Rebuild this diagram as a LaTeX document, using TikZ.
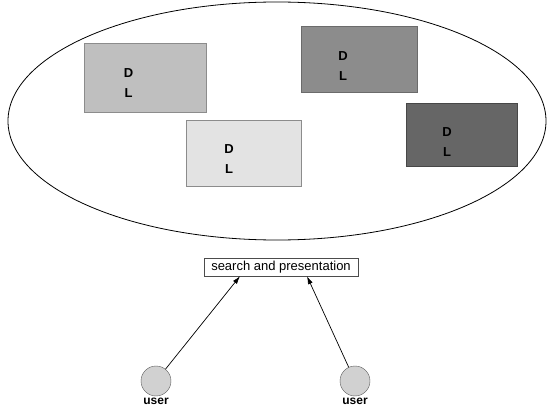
\documentclass[tikz,border=0pt]{standalone}
\usepackage{fontspec}
\setmainfont{Liberation Sans}
\usetikzlibrary{arrows.meta}
\begin{document}
\begin{tikzpicture}[x=1pt,y=1pt,>={Latex[length=8pt,width=5pt]},
    dlbox/.style={draw=black!45,inner sep=0pt},
    dltext/.style={font=\bfseries\fontsize{13}{20}\selectfont,align=center,inner sep=0pt},
    usernode/.style={circle,draw=black!65,fill=black!18,minimum size=30pt,inner sep=0pt,
        label={[font=\bfseries\fontsize{12}{14}\selectfont,label distance=-2pt]below:user}}]
    \useasboundingbox (0,0) rectangle (550,408);

    % The big ellipse holding the libraries
    \draw[line width=0.8pt] (277,287) ellipse [x radius=269, y radius=119];

    % Boxes, from light to dark
    \node[dlbox,fill=black!25,minimum width=122pt,minimum height=69pt] (dlA) at (145,330.5) {};
    \node[dlbox,fill=black!11,minimum width=115pt,minimum height=66pt] (dlB) at (243.5,255) {};
    \node[dlbox,fill=black!45,draw=black!58,minimum width=116pt,minimum height=66pt] (dlC) at (359,349) {};
    \node[dlbox,fill=black!60,draw=black!72,minimum width=111pt,minimum height=63pt] (dlD) at (461.5,273.5) {};
    \node[dltext] at (128.5,324.5) {D\\L};
    \node[dltext] at (229,248.5) {D\\L};
    \node[dltext] at (343,342) {D\\L};
    \node[dltext] at (447,265.5) {D\\L};

    % Search and presentation layer
    \node[draw=black!70,fill=white,minimum width=154pt,minimum height=18pt,inner sep=1pt,
        font=\fontsize{13}{15}\selectfont] (search) at (281,141) {search and presentation};

    % Users
    \node[usernode] (user1) at (156,27) {};
    \node[usernode] (user2) at (355,27) {};
    \draw[->,line width=0.7pt] (user1) -- ([xshift=-41pt]search.south);
    \draw[->,line width=0.7pt] (user2) -- ([xshift=26pt]search.south);
\end{tikzpicture}
\end{document}
